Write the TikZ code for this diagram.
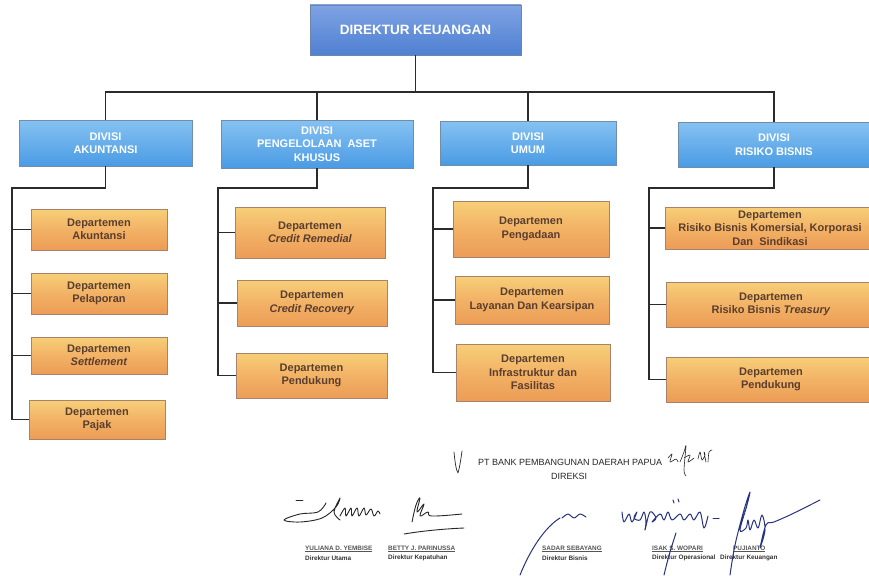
\documentclass[tikz,border=0pt]{standalone}
\usepackage{fontspec}
\setmainfont{Liberation Sans}
\usetikzlibrary{calc}
\definecolor{topA}{HTML}{7FA3E3}
\definecolor{topB}{HTML}{4F80D2}
\definecolor{topBorder}{HTML}{6F84AC}
\definecolor{divA}{HTML}{86C2F2}
\definecolor{divB}{HTML}{4A9BE4}
\definecolor{divBorder}{HTML}{708DAA}
\definecolor{deptA}{HTML}{F7CF78}
\definecolor{deptM}{HTML}{F2B266}
\definecolor{deptB}{HTML}{EC9C56}
\definecolor{deptBorder}{HTML}{A8826A}
\definecolor{deptText}{HTML}{5A3E2E}
\definecolor{lineCol}{HTML}{2B2B2B}
\definecolor{inkBlue}{HTML}{27337F}
\definecolor{nameGray}{HTML}{555555}
\begin{document}
\begin{tikzpicture}[x=1pt,y=-1pt,
  topbox/.style={draw=topBorder, line width=0.8pt, top color=topA, bottom color=topB,
    inner sep=0pt, text=white, align=center, font=\fontsize{13.5}{16}\selectfont\bfseries},
  divbox/.style={draw=divBorder, line width=0.8pt, top color=divA, bottom color=divB,
    inner sep=0pt, text=white, align=center, font=\fontsize{11}{13.5}\selectfont\bfseries},
  deptbox/.style={draw=deptBorder, line width=0.8pt, top color=deptA, bottom color=deptB, middle color=deptM,
    inner sep=0pt, text=deptText, align=center, font=\fontsize{11}{13.5}\selectfont\bfseries},
  conn/.style={draw=lineCol, line width=1.4pt},
  headtext/.style={inner sep=0pt, text=black!85, font=\fontsize{9}{11}\selectfont},
  nametext/.style={inner sep=0pt, anchor=west, text=nameGray, font=\fontsize{6.4}{7.5}\selectfont\bfseries},
  titletext/.style={inner sep=0pt, anchor=west, text=black!80, font=\fontsize{6.4}{7.5}\selectfont\bfseries},
  sigblack/.style={draw=black!85, line width=0.9pt, line cap=round, line join=round},
  sigblue/.style={draw=inkBlue, line width=1pt, line cap=round, line join=round}
]
\useasboundingbox (0,0) rectangle (869,575);
\fill[white] (0,0) rectangle (869,575);

% top
\node[topbox, minimum width=211pt, minimum height=50pt] (top) at (415.5,30) {DIREKTUR KEUANGAN};

% divisions
\node[divbox, minimum width=173pt, minimum height=46pt] (dA) at (105.5,143) {DIVISI\\AKUNTANSI};
\node[divbox, minimum width=192pt, minimum height=48pt] (dP) at (317,144) {DIVISI\\PENGELOLAAN\ \ ASET\\KHUSUS};
\node[divbox, minimum width=176pt, minimum height=44pt] (dU) at (528,143) {DIVISI\\UMUM};
\node[divbox, minimum width=192pt, minimum height=45pt] (dR) at (774,144.5) {DIVISI\\RISIKO BISNIS};

% departments: Akuntansi
\node[deptbox, minimum width=136pt, minimum height=41pt] (a1) at (99,229.5) {Departemen\\Akuntansi};
\node[deptbox, minimum width=136pt, minimum height=41pt] (a2) at (99,293.5) {Departemen\\Pelaporan};
\node[deptbox, minimum width=136pt, minimum height=37pt] (a3) at (99,355.5) {Departemen\\\textit{Settlement}};
\node[deptbox, minimum width=136pt, minimum height=39pt] (a4) at (97,419.5) {Departemen\\Pajak};

% departments: Pengelolaan Aset Khusus
\node[deptbox, minimum width=150pt, minimum height=51pt] (p1) at (310,232.5) {Departemen\\\textit{Credit Remedial}};
\node[deptbox, minimum width=150pt, minimum height=46pt] (p2) at (312,303) {Departemen\\\textit{Credit Recovery}};
\node[deptbox, minimum width=151pt, minimum height=45pt] (p3) at (311.5,375.5) {Departemen\\Pendukung};

% departments: Umum
\node[deptbox, minimum width=156pt, minimum height=56pt] (u1) at (531,229) {Departemen\\Pengadaan};
\node[deptbox, minimum width=154pt, minimum height=48pt] (u2) at (532,300) {Departemen\\Layanan Dan Kearsipan};
\node[deptbox, minimum width=154pt, minimum height=57pt] (u3) at (533,372.5) {Departemen\\Infrastruktur dan\\Fasilitas};

% departments: Risiko Bisnis
\node[deptbox, minimum width=210pt, minimum height=42pt] (r1) at (770,228) {Departemen\\Risiko Bisnis Komersial, Korporasi\\Dan\ \ Sindikasi};
\node[deptbox, minimum width=210pt, minimum height=45pt] (r2) at (771,304.5) {Departemen\\Risiko Bisnis \textit{Treasury}};
\node[deptbox, minimum width=210pt, minimum height=45pt] (r3) at (771,379.5) {Departemen\\Pendukung};

% connectors: top level
\coordinate (bus) at (415.5,92);
\draw[conn] (top.south) -- (bus);
\draw[conn] (dA.north) |- (bus) -| (dR.north);
\draw[conn] (dP.north) -- (dP.north |- bus);
\draw[conn] (dU.north) -- (dU.north |- bus);

% spines
\coordinate (sA) at (12,188);
\coordinate (sP) at (218,188);
\coordinate (sU) at (433,188);
\coordinate (sR) at (649,188);
\draw[conn] (dA.south) |- (sA) |- (a4.west);
\draw[conn] (a1.west) -- (a1.west -| sA);
\draw[conn] (a2.west) -- (a2.west -| sA);
\draw[conn] (a3.west) -- (a3.west -| sA);
\draw[conn] (dP.south) |- (sP) |- (p3.west);
\draw[conn] (p1.west) -- (p1.west -| sP);
\draw[conn] (p2.west) -- (p2.west -| sP);
\draw[conn] (dU.south) |- (sU) |- (u3.west);
\draw[conn] (u1.west) -- (u1.west -| sU);
\draw[conn] (u2.west) -- (u2.west -| sU);
\draw[conn] (dR.south) |- (sR) |- (r3.west);
\draw[conn] (r1.west) -- (r1.west -| sR);
\draw[conn] (r2.west) -- (r2.west -| sR);

% footer texts
\node[headtext, anchor=west] (bank) at (478,462) {PT BANK PEMBANGUNAN DAERAH PAPUA};
\node[headtext] (direksi) at (569,476) {DIREKSI};

\node[nametext] (n1) at (305,549) {\underline{YULIANA D. YEMBISE}};
\node[titletext] (t1) at (305,558) {Direktur Utama};
\node[nametext] (n2) at (388,549) {\underline{BETTY J. PARINUSSA}};
\node[titletext] (t2) at (388,558) {Direktur Kepatuhan};
\node[nametext] (n3) at (542,549) {\underline{SADAR SEBAYANG}};
\node[titletext] (t3) at (542,558) {Direktur Bisnis};
\node[nametext] (n4) at (652,549) {\underline{ISAK S. WOPARI}};
\node[titletext] (t4) at (652,558) {Direktur Operasional};
\node[nametext] (n5) at (733,549) {\underline{PUJIANTO}};
\node[titletext] (t5) at (720,558) {Direktur Keuangan};

% paraf marks near header
\draw[sigblack, line width=0.7pt] (454,452) .. controls (455,462) and (456,470) .. (458,473) .. controls (460,466) and (461,458) .. (462,451);
\draw[sigblack, line width=0.6pt] plot[smooth] coordinates {(668,458) (672,454) (670,462) (676,459) (678,462)};
\draw[sigblack, line width=0.6pt] plot[smooth] coordinates {(680,462) (684,452) (686,446) (684,470) (686,476)};
\draw[sigblack, line width=0.6pt] plot[smooth] coordinates {(684,458) (690,455) (688,462) (694,458)};
\draw[sigblack, line width=0.6pt] plot[smooth] coordinates {(698,459) (700,452) (702,460) (705,455) (704,452) (706,462)};
\draw[sigblack, line width=0.6pt] plot[smooth] coordinates {(708,462) (709,452) (712,450)};

% signatures
\draw[sigblack] (296,500) -- (303,500);
\draw[sigblack] plot[smooth, tension=0.6] coordinates {(326,503) (318,512) (300,514) (284,520) (300,522) (322,518) (336,507) (340,498) (334,512) (340,520)};
\draw[sigblack] plot[smooth, tension=0.6] coordinates {(340,516) (345,508) (346,516) (351,508) (352,516) (357,508) (359,516) (364,508) (366,515) (371,509) (374,516) (378,511) (380,514)};
\draw[sigblack] plot[smooth, tension=0.7] coordinates {(412,522) (416,505) (420,498) (417,512) (424,504) (420,516) (428,512) (432,516) (462,514)};
\draw[sigblack] (404,534) .. controls (422,531) and (442,529) .. (464,528);
\draw[sigblue] (520,575) .. controls (530,550) and (545,527) .. (560,518);
\draw[sigblue] plot[smooth] coordinates {(562,518) (568,514) (574,518) (580,514) (586,517)};
\draw[sigblue] plot[smooth, tension=0.6] coordinates {(622,512) (624,522) (629,514) (632,522) (637,512) (634,518) (640,520) (644,512) (646,522) (645,530) (650,512) (656,518) (652,522) (660,514) (664,520) (668,512) (672,520) (680,514) (684,520) (690,514) (694,520) (700,512) (704,528) (708,516)};
\draw[sigblue] (673,500) -- (674,503) (678,499) -- (679,502);
\draw[sigblue] (713,518) -- (719,518);
\draw[sigblue] (664,575) .. controls (668,558) and (672,545) .. (676,533);
\draw[sigblue] plot[smooth, tension=0.6] coordinates {(730,575) (735,545) (744,510) (750,492) (747,505) (740,530) (746,528) (748,520) (750,530) (754,520) (758,528) (762,515) (765,530) (760,548) (766,525) (774,522) (792,514) (820,500)};
\end{tikzpicture}
\end{document}
